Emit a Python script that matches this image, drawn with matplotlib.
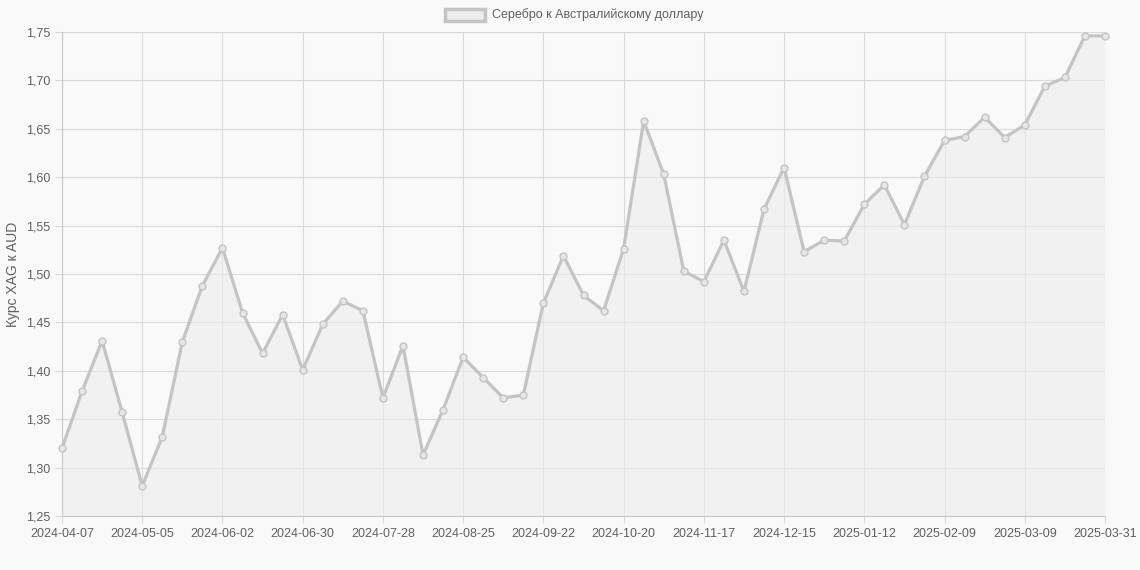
import matplotlib.pyplot as plt
from matplotlib.ticker import FuncFormatter, MultipleLocator
from matplotlib.patches import Rectangle

# weekly dates (last point is 2025-03-31)
dates = [
    '2024-04-07', '2024-04-14', '2024-04-21', '2024-04-28', '2024-05-05', '2024-05-12',
    '2024-05-19', '2024-05-26', '2024-06-02', '2024-06-09', '2024-06-16', '2024-06-23',
    '2024-06-30', '2024-07-07', '2024-07-14', '2024-07-21', '2024-07-28', '2024-08-04',
    '2024-08-11', '2024-08-18', '2024-08-25', '2024-09-01', '2024-09-08', '2024-09-15',
    '2024-09-22', '2024-09-29', '2024-10-06', '2024-10-13', '2024-10-20', '2024-10-27',
    '2024-11-03', '2024-11-10', '2024-11-17', '2024-11-24', '2024-12-01', '2024-12-08',
    '2024-12-15', '2024-12-22', '2024-12-29', '2025-01-05', '2025-01-12', '2025-01-19',
    '2025-01-26', '2025-02-02', '2025-02-09', '2025-02-16', '2025-02-23', '2025-03-02',
    '2025-03-09', '2025-03-16', '2025-03-23', '2025-03-30', '2025-03-31',
]

rates = [
    1.320, 1.379, 1.431, 1.357, 1.281, 1.332, 1.430, 1.488, 1.527, 1.460,
    1.418, 1.458, 1.401, 1.448, 1.472, 1.462, 1.372, 1.426, 1.313, 1.360,
    1.414, 1.393, 1.372, 1.375, 1.470, 1.519, 1.478, 1.462, 1.526, 1.658,
    1.603, 1.503, 1.492, 1.535, 1.482, 1.567, 1.610, 1.523, 1.535, 1.534,
    1.572, 1.592, 1.551, 1.601, 1.638, 1.642, 1.662, 1.641, 1.654, 1.694,
    1.703, 1.746, 1.746,
]

tick_idx = list(range(0, len(dates) - 1, 4)) + [len(dates) - 1]

bg = '#f9f9f9'
line_col = '#c4c4c4'
grid_col = '#d9d9d9'
text_col = '#606060'

plt.rcParams['font.family'] = ['Liberation Sans', 'DejaVu Sans']

fig = plt.figure(figsize=(11.4, 5.7), dpi=100, facecolor=bg)
ax = fig.add_axes([62 / 1140, 54 / 570, (1105 - 62) / 1140, (516 - 32) / 570])
ax.set_facecolor(bg)

x = list(range(len(dates)))
ax.fill_between(x, rates, 1.25, color='#ececec', alpha=0.6, zorder=1, linewidth=0)
ax.plot(x, rates, color=line_col, linewidth=2.3, zorder=3, clip_on=False,
        marker='o', markersize=5, markerfacecolor='#e6e6e6',
        markeredgecolor=line_col, markeredgewidth=1)

ax.set_xlim(0, len(dates) - 1)
ax.set_ylim(1.25, 1.75)
ax.yaxis.set_major_locator(MultipleLocator(0.05))
ax.yaxis.set_major_formatter(FuncFormatter(lambda v, p: f'{v:.2f}'.replace('.', ',')))
ax.set_xticks(tick_idx)
ax.set_xticklabels([dates[i] for i in tick_idx])

ax.grid(True, color=grid_col, linewidth=0.8, zorder=0)
ax.set_axisbelow(True)
for side in ['top', 'right']:
    ax.spines[side].set_visible(False)
for side in ['left', 'bottom']:
    ax.spines[side].set_color('#c8c8c8')
ax.tick_params(colors=text_col, labelsize=9, length=5, width=0.8)
ax.tick_params(axis='both', color=grid_col)

ax.set_ylabel('Курс XAG к AUD', color=text_col, fontsize=10, labelpad=4)

# legend at top
fig.patches.append(Rectangle((445 / 1140, 1 - 21 / 570), 40 / 1140, 12 / 570,
                             transform=fig.transFigure, facecolor='#ececec',
                             edgecolor=line_col, linewidth=2.5))
fig.text(492 / 1140, 1 - 15 / 570, 'Серебро к Австралийскому доллару',
         color=text_col, fontsize=9, va='center', ha='left')

fig.savefig('out.png', dpi=100, facecolor=bg)
